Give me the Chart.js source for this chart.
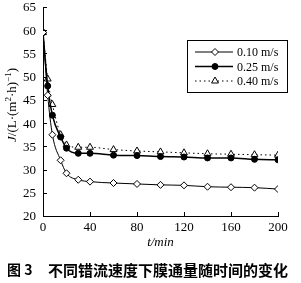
<!DOCTYPE html>
<html>
<head>
<meta charset="utf-8">
<script src="https://cdn.jsdelivr.net/npm/chart.js@4/dist/chart.umd.min.js"></script>
<style>
  html, body { margin:0; padding:0; background:#fff; }
  #wrap { width:301px; height:283px; position:relative; }
</style>
</head>
<body>
<div id="wrap"><canvas id="c" width="301" height="283"></canvas></div>
<script>
// ── données ────────────────────────────────────────────────
const timeMin  = [0, 4, 8, 15, 20, 30, 40, 60, 80, 100, 120, 140, 160, 180, 200];
const flux010  = [59.5, 46.0, 37.5, 32.0, 29.2, 27.8, 27.4, 27.1, 26.9, 26.7, 26.6, 26.3, 26.2, 26.1, 25.8];
const flux025  = [59.5, 48.0, 41.7, 37.0, 34.6, 33.5, 33.5, 33.1, 33.0, 32.8, 32.7, 32.5, 32.5, 32.2, 32.1];
const flux040  = [59.5, 49.5, 44.0, 37.5, 35.3, 34.8, 34.8, 34.3, 34.0, 33.8, 33.6, 33.4, 33.3, 33.2, 33.1];
const seriesLabels = ['0.10 m/s', '0.25 m/s', '0.40 m/s'];
const xTicks = [0, 40, 80, 120, 160, 200];
const yTicks = [20, 25, 30, 35, 40, 45, 50, 55, 60, 65];
const caption = ['图 3', '不同错流速度下膜通量随时间的变化'];

const SERIF = '"Liberation Serif", "DejaVu Serif", serif';
const pts = arr => arr.map((v, i) => ({ x: timeMin[i], y: v }));

// ── ticks vers l'intérieur, libellés, titres, légende, légende figure ──
const decor = {
  id: 'decor',
  afterDraw(chart) {
    const { ctx, scales: { x, y }, chartArea: a } = chart;
    ctx.save();
    ctx.strokeStyle = '#000';
    ctx.fillStyle = '#000';
    ctx.lineWidth = 1;
    ctx.beginPath();
    xTicks.forEach(v => {
      const px = Math.round(x.getPixelForValue(v)) + 0.5;
      ctx.moveTo(px, a.bottom); ctx.lineTo(px, a.bottom - 4);
    });
    yTicks.forEach(v => {
      const py = Math.round(y.getPixelForValue(v)) + 0.5;
      ctx.moveTo(a.left, py); ctx.lineTo(a.left + 4, py);
    });
    ctx.stroke();

    // libellés des graduations
    ctx.font = '13px ' + SERIF;
    ctx.textBaseline = 'middle';
    ctx.textAlign = 'right';
    yTicks.forEach(v => ctx.fillText(String(v), a.left - 7, y.getPixelForValue(v) + 1));
    ctx.textAlign = 'center';
    xTicks.forEach(v => ctx.fillText(String(v), x.getPixelForValue(v), a.bottom + 12));

    // titre axe X
    ctx.font = 'italic 13px ' + SERIF;
    ctx.fillText('t/min', (a.left + a.right) / 2, 243);
    ctx.textAlign = 'left';

    // titre axe Y  J/(L·(m²·h)⁻¹)
    ctx.save();
    ctx.translate(13, 105);
    ctx.rotate(-Math.PI / 2);
    const parts = [
      ['italic 13px ' + SERIF, 'J', 0],
      ['13px ' + SERIF, '/(L·(m', 0],
      ['9px ' + SERIF, '2', -4],
      ['13px ' + SERIF, '·h)', 0],
      ['9px ' + SERIF, '−1', -4],
      ['13px ' + SERIF, ')', 0],
    ];
    let w = 0;
    parts.forEach(p => { ctx.font = p[0]; w += ctx.measureText(p[1]).width; });
    let cx = -w / 2;
    parts.forEach(p => {
      ctx.font = p[0];
      ctx.fillText(p[1], cx, p[2]);
      cx += ctx.measureText(p[1]).width;
    });
    ctx.restore();

    // légende encadrée
    ctx.lineWidth = 1;
    ctx.strokeRect(187.5, 40.5, 100, 52);
    chart.data.datasets.forEach((ds, i) => {
      const ly = 52 + i * 14.5;
      ctx.save();
      ctx.lineWidth = ds.borderWidth;
      ctx.setLineDash(ds.borderDash || []);
      ctx.beginPath();
      ctx.moveTo(195, ly); ctx.lineTo(233, ly);
      ctx.stroke();
      ctx.restore();
      ctx.save();
      ctx.fillStyle = ds.pointBackgroundColor;
      ctx.lineWidth = ds.pointBorderWidth;
      Chart.helpers.drawPoint(ctx, {
        pointStyle: ds.pointStyle, radius: ds.pointRadius, rotation: 0,
        borderWidth: ds.pointBorderWidth
      }, 215, ly);
      ctx.restore();
      ctx.font = '12px ' + SERIF;
      ctx.fillText(ds.label, 237, ly + 1);
    });

    // légende de la figure
    ctx.font = 'bold 14px "Noto Sans CJK SC", sans-serif';
    ctx.fillText(caption[0], 7, 270);
    ctx.font = 'bold 15px "Noto Sans CJK SC", sans-serif';
    ctx.fillText(caption[1], 48, 270);
    ctx.restore();
  }
};

const common = {
  borderColor: '#000', pointBorderColor: '#000', pointBorderWidth: 1,
  cubicInterpolationMode: 'monotone', fill: false
};

new Chart(document.getElementById('c'), {
  type: 'line',
  data: {
    datasets: [
      { ...common, label: seriesLabels[0], data: pts(flux010), borderWidth: 1,
        pointStyle: 'rectRot', pointRadius: 3.5, pointBackgroundColor: '#fff' },
      { ...common, label: seriesLabels[1], data: pts(flux025), borderWidth: 1.5,
        pointStyle: 'circle', pointRadius: 3, pointBackgroundColor: '#000' },
      { ...common, label: seriesLabels[2], data: pts(flux040), borderWidth: 1, borderDash: [1.5, 3],
        pointStyle: 'triangle', pointRadius: 4, pointBackgroundColor: '#fff' },
    ]
  },
  options: {
    responsive: false, animation: false,
    layout: { padding: { left: 0, right: 23, top: 7, bottom: 0 } },
    plugins: { legend: { display: false }, tooltip: { enabled: false } },
    scales: {
      x: {
        type: 'linear', min: 0, max: 200,
        afterBuildTicks: s => { s.ticks = xTicks.map(v => ({ value: v })); },
        afterFit: s => { s.height = 67; },
        grid: { display: false, drawTicks: false },
        border: { display: true, color: '#000', width: 1 },
        ticks: { display: false }
      },
      y: {
        min: 20, max: 65,
        afterBuildTicks: s => { s.ticks = yTicks.map(v => ({ value: v })); },
        afterFit: s => { s.width = 43; },
        grid: { display: false, drawTicks: false },
        border: { display: true, color: '#000', width: 1 },
        ticks: { display: false }
      }
    }
  },
  plugins: [decor]
});
</script>
</body>
</html>
